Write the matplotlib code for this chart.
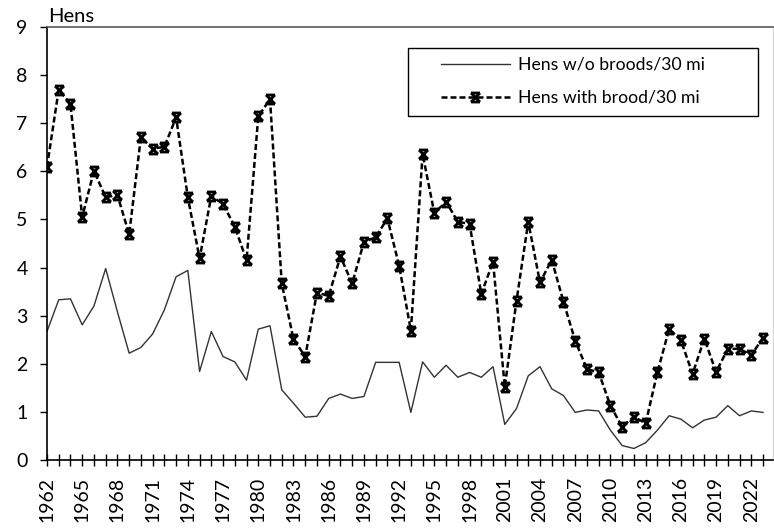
import numpy as np
import matplotlib
matplotlib.use('Agg')
import matplotlib.pyplot as plt
from matplotlib.path import Path
from matplotlib.patches import Rectangle

plt.rcParams['font.family'] = ['Lato', 'DejaVu Sans']

years = list(range(1962, 2024))

# hens without broods per 30 miles
no_brood = [2.67, 3.33, 3.35, 2.81, 3.20, 3.98, 3.08, 2.22, 2.34, 2.62,
            3.12, 3.81, 3.94, 1.84, 2.67, 2.15, 2.04, 1.66, 2.72, 2.79,
            1.46, 1.18, 0.89, 0.91, 1.28, 1.37, 1.28, 1.32, 2.03, 2.03,
            2.03, 0.99, 2.04, 1.72, 1.97, 1.72, 1.82, 1.72, 1.94, 0.74,
            1.07, 1.75, 1.94, 1.48, 1.34, 0.99, 1.04, 1.02, 0.62, 0.30,
            0.24, 0.36, 0.62, 0.92, 0.85, 0.67, 0.83, 0.89, 1.13, 0.92,
            1.02, 0.99]

# hens with brood per 30 miles
with_brood = [6.09, 7.70, 7.40, 5.05, 6.01, 5.46, 5.51, 4.69, 6.71, 6.47,
              6.51, 7.12, 5.46, 4.19, 5.49, 5.32, 4.85, 4.15, 7.14, 7.50,
              3.67, 2.51, 2.15, 3.48, 3.41, 4.23, 3.67, 4.53, 4.63, 5.02,
              4.04, 2.69, 6.36, 5.13, 5.37, 4.95, 4.91, 3.45, 4.12, 1.52,
              3.31, 4.95, 3.69, 4.16, 3.29, 2.48, 1.89, 1.82, 1.13, 0.69,
              0.90, 0.76, 1.82, 2.72, 2.49, 1.79, 2.52, 1.83, 2.31, 2.31,
              2.18, 2.54]

labels = ['Hens w/o broods/30 mi', 'Hens with brood/30 mi']

# star-like marker: an X with caps top and bottom
verts = [(-1, 1), (1, -1), (-1, -1), (1, 1), (-1, 1), (1, 1), (-1, -1), (1, -1)]
codes = [Path.MOVETO, Path.LINETO, Path.MOVETO, Path.LINETO,
         Path.MOVETO, Path.LINETO, Path.MOVETO, Path.LINETO]
star = Path(verts, codes)

fig = plt.figure(figsize=(7.74, 5.29), dpi=100)
ax = fig.add_axes([0.0607, 0.1304, 0.938, 0.8186])

ax.plot(years, no_brood, color='#333333', lw=1.0, label=labels[0])
ax.plot(years, with_brood, color='black', lw=1.8, ls=(0, (2.4, 1.2)),
        marker=star, markersize=6.5, markeredgewidth=2.0, label=labels[1])

ax.set_xlim(1962, 2023.85)
ax.set_ylim(0, 9)
ax.set_yticks(range(0, 10))
ax.set_xticks(years, minor=True)
ax.set_xticks(range(1962, 2024, 3))
ax.set_xticklabels([str(y) for y in range(1962, 2024, 3)], rotation=90)

ax.tick_params(axis='y', direction='out', length=5, width=1, labelsize=14, pad=9)
ax.tick_params(axis='x', which='both', direction='inout', length=8, width=1,
               labelsize=14, pad=8)

for s in ['left', 'bottom']:
    ax.spines[s].set_color('black')
    ax.spines[s].set_linewidth(1.2)
ax.spines['top'].set_color('#595959')
ax.spines['top'].set_linewidth(1.2)
ax.spines['right'].set_color('#d9d9d9')
ax.spines['right'].set_linewidth(1.0)

fig.text(48 / 774, 1 - 8 / 529, 'Hens', fontsize=14.5, va='top', ha='left')

leg = fig.legend(loc='upper left', bbox_to_anchor=(441 / 774, 1 - 57 / 529),
                 bbox_transform=fig.transFigure, fontsize=12.7, frameon=False,
                 handlelength=3.9, handletextpad=0.45, borderpad=0,
                 borderaxespad=0, labelspacing=0.95)

# legend frame, drawn separately to get wide side padding
fig.patches.append(Rectangle((408 / 774, 1 - 116 / 529), 350 / 774, 68 / 529,
                             transform=fig.transFigure, fill=False,
                             edgecolor='black', lw=1.0))

fig.savefig('out.png', dpi=100)
